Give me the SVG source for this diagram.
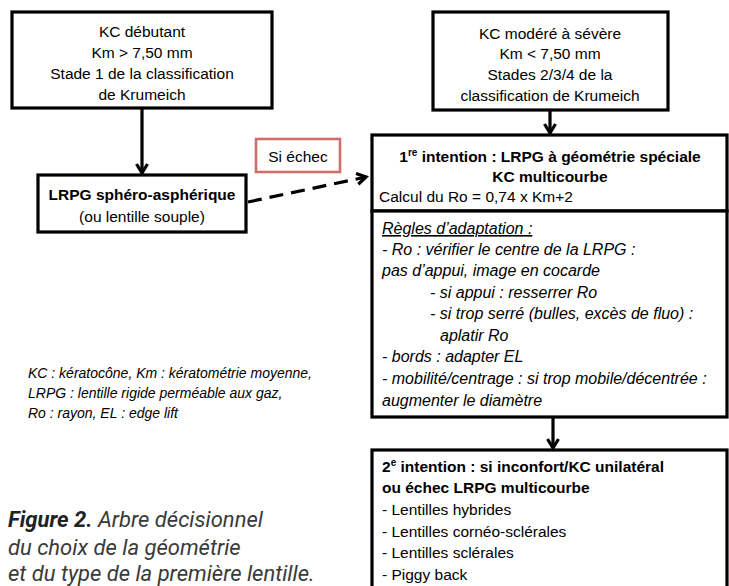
<svg xmlns="http://www.w3.org/2000/svg" width="729" height="586" viewBox="0 0 729 586">
<style>
.box{fill:#fff;stroke:#000;stroke-width:3.2}
.t{font-family:"Liberation Sans",Arial,sans-serif;font-size:15.5px;fill:#000}
.c{text-anchor:middle}
.b{font-weight:bold}
.i{font-style:italic;font-size:16px}
.leg{font-family:"Liberation Sans",Arial,sans-serif;font-size:14px;font-style:italic;fill:#000}
.cap{font-family:Roboto,"Liberation Sans",sans-serif;font-size:22px;font-style:italic;fill:#3a3a3a}
.conn{fill:none;stroke:#000;stroke-width:3.2}
</style>
<defs>
<marker id="ah" viewBox="0 0 14 14" refX="11" refY="7" markerWidth="14" markerHeight="14" markerUnits="userSpaceOnUse" orient="auto">
<path d="M2,1.5 L11,7 L2,12.5" fill="none" stroke="#000" stroke-width="3.2"/>
</marker>
</defs>
<rect width="729" height="586" fill="#fff"/>

<g id="connectors">
<line class="conn" x1="142" y1="108" x2="142" y2="173" marker-end="url(#ah)"/>
<line class="conn" x1="550" y1="110" x2="550" y2="133" marker-end="url(#ah)"/>
<line class="conn" x1="553" y1="417" x2="553" y2="448" marker-end="url(#ah)"/>
<line class="conn" x1="248" y1="202" x2="366" y2="177" stroke-dasharray="14,8" marker-end="url(#ah)"/>
</g>

<g id="node-kc-debutant">
<rect class="box" x="12" y="12" width="260" height="96"/>
<text class="t c" x="142" y="37">KC débutant</text>
<text class="t c" x="142" y="58">Km &gt; 7,50 mm</text>
<text class="t c" x="142" y="79">Stade 1 de la classification</text>
<text class="t c" x="142" y="100">de Krumeich</text>
</g>

<g id="node-kc-modere">
<rect class="box" x="433" y="12" width="235" height="98"/>
<text class="t c" x="550" y="39">KC modéré à sévère</text>
<text class="t c" x="550" y="59">Km &lt; 7,50 mm</text>
<text class="t c" x="550" y="80">Stades 2/3/4 de la</text>
<text class="t c" x="550" y="101">classification de Krumeich</text>
</g>

<g id="node-lrpg-sphero">
<rect class="box" x="38" y="175" width="208" height="57"/>
<text class="t c b" x="142" y="200">LRPG sphéro-asphérique</text>
<text class="t c" x="142" y="222">(ou lentille souple)</text>
</g>

<g id="node-si-echec">
<rect x="256" y="139" width="84" height="33" fill="#fff" stroke="#cf6f6c" stroke-width="2.6"/>
<text class="t c" x="298" y="162">Si échec</text>
</g>

<g id="node-1re-intention">
<rect class="box" x="372" y="135" width="355" height="76"/>
<text class="t c b" x="550" y="162">1<tspan font-size="10" dy="-6">re</tspan><tspan dy="6"> intention : LRPG à géométrie spéciale</tspan></text>
<text class="t c b" x="550" y="182">KC multicourbe</text>
<text class="t" x="379" y="202">Calcul du Ro = 0,74 x Km+2</text>
</g>

<g id="node-regles">
<rect class="box" x="372" y="211" width="355" height="206"/>
<text class="t i" x="382" y="234" text-decoration="underline">Règles d’adaptation :</text>
<text class="t i" x="382" y="255">- Ro : vérifier le centre de la LRPG :</text>
<text class="t i" x="382" y="276">pas d’appui, image en cocarde</text>
<text class="t i" x="430" y="298">- si appui : resserrer Ro</text>
<text class="t i" x="430" y="319">- si trop serré (bulles, excès de fluo) :</text>
<text class="t i" x="440" y="341">aplatir Ro</text>
<text class="t i" x="382" y="362">- bords : adapter EL</text>
<text class="t i" x="382" y="384">- mobilité/centrage : si trop mobile/décentrée :</text>
<text class="t i" x="382" y="406">augmenter le diamètre</text>
</g>

<g id="node-2e-intention">
<rect class="box" x="372" y="450" width="355" height="150"/>
<text class="t b" x="382" y="472">2<tspan font-size="10" dy="-6">e</tspan><tspan dy="6"> intention : si inconfort/KC unilatéral</tspan></text>
<text class="t b" x="382" y="493">ou échec LRPG multicourbe</text>
<text class="t" x="382" y="515">- Lentilles hybrides</text>
<text class="t" x="382" y="537">- Lentilles cornéo-sclérales</text>
<text class="t" x="382" y="558">- Lentilles sclérales</text>
<text class="t" x="382" y="580">- Piggy back</text>
</g>

<g id="legend">
<text class="leg" x="28" y="378">KC : kératocône, Km : kératométrie moyenne,</text>
<text class="leg" x="28" y="398">LRPG : lentille rigide perméable aux gaz,</text>
<text class="leg" x="28" y="418">Ro : rayon, EL : edge lift</text>
</g>

<g id="caption">
<text class="cap" x="8" y="527"><tspan font-weight="bold" fill="#222">Figure 2.</tspan> Arbre décisionnel</text>
<text class="cap" x="8" y="555">du choix de la géométrie</text>
<text class="cap" x="8" y="581">et du type de la première lentille.</text>
</g>
</svg>
